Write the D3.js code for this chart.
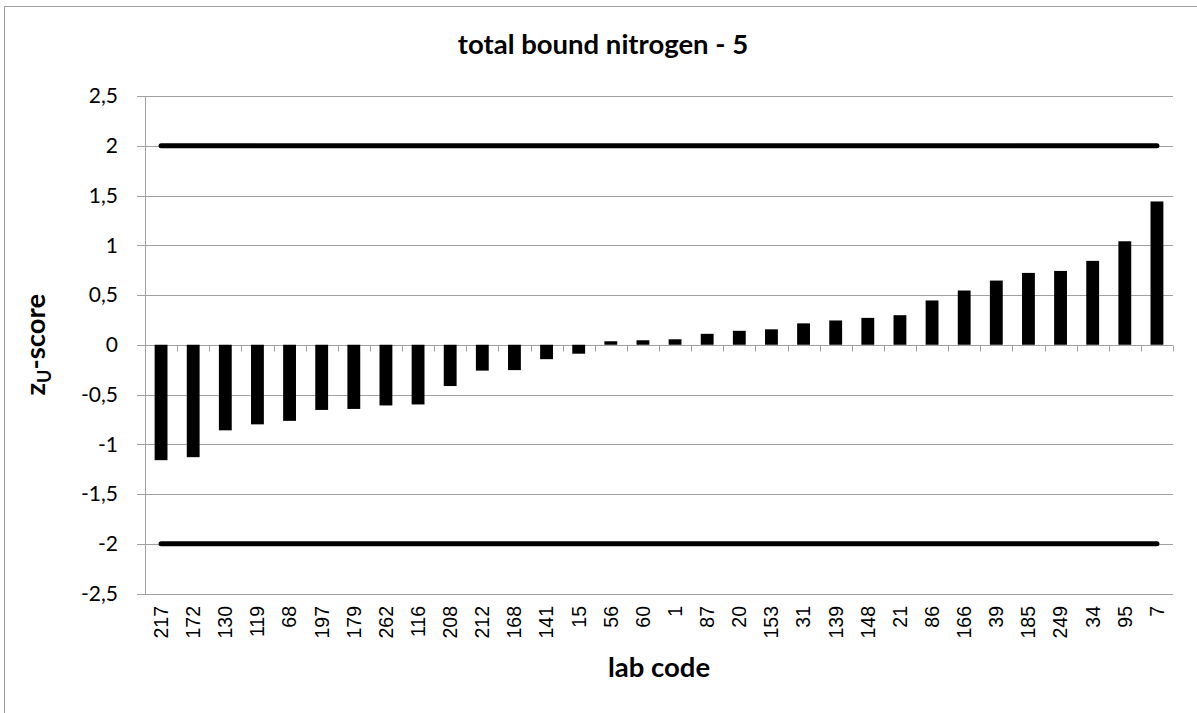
<!DOCTYPE html>
<html><head><meta charset="utf-8">
<script src="https://cdn.jsdelivr.net/npm/d3@7"></script>
<style>body{margin:0;background:#fff}svg{display:block}</style>
</head><body>
<svg id="chart" width="1197" height="713"></svg>
<script>
const labCodes = ["217","172","130","119","68","197","179","262","116","208","212","168","141","15","56","60","1","87","20","153","31","139","148","21","86","166","39","185","249","34","95","7"];
const zScores = [-1.16,-1.13,-0.86,-0.80,-0.765,-0.655,-0.645,-0.61,-0.60,-0.415,-0.26,-0.255,-0.145,-0.09,0.035,0.045,0.055,0.11,0.14,0.155,0.215,0.244,0.27,0.297,0.445,0.545,0.645,0.722,0.742,0.843,1.04,1.44];
const upperLimit = 2, lowerLimit = -2;
const yTicks = [-2.5,-2,-1.5,-1,-0.5,0,0.5,1,1.5,2,2.5];
const title = "total bound nitrogen - 5";
const xTitle = "lab code";

const svg = d3.select("#chart");
const L = 145, R = 1173, T = 96, B = 593.5;
const x = d3.scaleBand().domain(labCodes).range([L, R]).paddingInner(0).paddingOuter(0);
const y = d3.scaleLinear().domain([-2.5, 2.5]).range([B, T]);
const grid = "#a0a0a0";
const calibri = "Lato, 'Open Sans', sans-serif";

// outer border
svg.append("rect").attr("x",4.5).attr("y",6.5).attr("width",1300).attr("height",800)
  .attr("fill","none").attr("stroke","#a0a0a0").attr("stroke-width",1);

// gridlines
svg.append("g").selectAll("line").data(yTicks).join("line")
  .attr("x1", L - 8).attr("x2", R)
  .attr("y1", d => Math.round(y(d)) + 0.5).attr("y2", d => Math.round(y(d)) + 0.5)
  .attr("stroke", grid).attr("stroke-width", 1);

// y axis line
svg.append("line").attr("x1", L + 0.5).attr("x2", L + 0.5).attr("y1", T).attr("y2", B + 1)
  .attr("stroke", grid);

// y tick labels
svg.append("g").selectAll("text").data(yTicks).join("text")
  .attr("x", 118).attr("y", d => y(d)).attr("dy", "0.35em")
  .attr("text-anchor", "end").attr("font-family", calibri).attr("font-size", 21)
  .attr("fill", "#000").text(d => String(d).replace(".", ","));

// bars
svg.append("g").selectAll("rect").data(labCodes).join("rect")
  .attr("x", d => x(d) + x.bandwidth() * 0.3)
  .attr("width", x.bandwidth() * 0.4)
  .attr("y", (d, i) => y(Math.max(0, zScores[i])))
  .attr("height", (d, i) => Math.abs(y(zScores[i]) - y(0)))
  .attr("fill", "#000");

// category ticks on zero line
const y0 = Math.round(y(0)) + 0.5;
const tickPos = labCodes.map(d => x(d) + x.bandwidth()).concat([L]);
svg.append("g").selectAll("line").data(tickPos).join("line")
  .attr("x1", d => Math.round(d) + 0.5).attr("x2", d => Math.round(d) + 0.5)
  .attr("y1", y0).attr("y2", y0 + 6).attr("stroke", grid);

// limit lines
const limLine = d3.line().x(d => x(d) + x.bandwidth() / 2);
[upperLimit, lowerLimit].forEach(v => {
  svg.append("path").datum(labCodes)
    .attr("d", limLine.y(() => y(v)))
    .attr("fill", "none").attr("stroke", "#000").attr("stroke-width", 5)
    .attr("stroke-linecap", "round");
});

// x tick labels
svg.append("g").selectAll("text").data(labCodes).join("text")
  .attr("transform", d => `translate(${x(d) + x.bandwidth() / 2},606) rotate(-90)`)
  .attr("dy", "0.35em").attr("text-anchor", "end")
  .attr("font-family", "'Liberation Sans', Arial, sans-serif").attr("font-size", 19.5)
  .attr("fill", "#000").text(d => d);

// titles
svg.append("text").attr("x", 603).attr("y", 54).attr("text-anchor", "middle")
  .attr("font-family", calibri).attr("font-weight", "bold").attr("font-size", 27.5)
  .text(title);
svg.append("text").attr("x", (L + R) / 2).attr("y", 677).attr("text-anchor", "middle")
  .attr("font-family", calibri).attr("font-weight", "bold").attr("font-size", 27.5)
  .text(xTitle);
const yt = svg.append("text").attr("transform", `translate(45,${(T + B) / 2}) rotate(-90)`)
  .attr("text-anchor", "middle").attr("font-family", calibri).attr("font-weight", "bold")
  .attr("font-size", 27.5);
yt.append("tspan").text("z");
yt.append("tspan").attr("font-size", 18).attr("dy", 6).text("U");
yt.append("tspan").attr("dy", -6).text("-score");
</script>
</body></html>
